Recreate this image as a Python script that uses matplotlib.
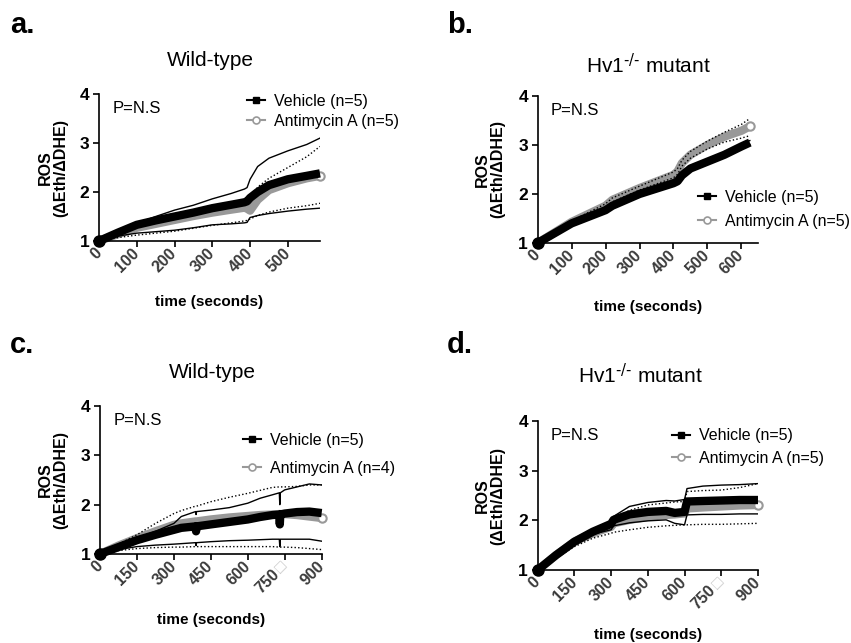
import matplotlib.pyplot as plt
from matplotlib.lines import Line2D

plt.rcParams['font.family'] = ['Liberation Sans', 'DejaVu Sans']
plt.rcParams['mathtext.default'] = 'regular'

# ---- panel a: wild-type, 600 s ----
t_a = [0, 50, 100, 150, 200, 250, 300, 350, 385, 392, 400, 420, 450, 500, 550, 585]
veh_a = [1.00, 1.17, 1.33, 1.42, 1.50, 1.58, 1.67, 1.74, 1.79, 1.81, 1.88, 2.00, 2.14, 2.26, 2.33, 2.38]
veh_a_hi = [1.00, 1.20, 1.36, 1.50, 1.63, 1.73, 1.86, 1.97, 2.06, 2.09, 2.26, 2.52, 2.69, 2.84, 2.97, 3.10]
veh_a_lo = [1.00, 1.10, 1.16, 1.19, 1.22, 1.27, 1.33, 1.35, 1.37, 1.38, 1.48, 1.52, 1.56, 1.61, 1.65, 1.67]
ama_a = [1.00, 1.14, 1.27, 1.35, 1.43, 1.51, 1.58, 1.64, 1.68, 1.66, 1.62, 1.84, 2.04, 2.18, 2.28, 2.33]
ama_a_hi = [1.00, 1.19, 1.34, 1.44, 1.53, 1.62, 1.70, 1.77, 1.82, 1.83, 1.86, 2.10, 2.28, 2.50, 2.72, 2.93]
ama_a_lo = [1.00, 1.07, 1.12, 1.16, 1.20, 1.26, 1.32, 1.37, 1.41, 1.42, 1.45, 1.52, 1.59, 1.67, 1.72, 1.77]

# ---- panel b: Hv1-/- mutant, 600 s ----
t_b = [0, 100, 200, 220, 300, 400, 412, 425, 450, 500, 550, 600, 625]
veh_b = [1.00, 1.40, 1.67, 1.76, 2.00, 2.22, 2.26, 2.38, 2.52, 2.66, 2.80, 2.97, 3.05]
veh_b_hi = [1.00, 1.42, 1.70, 1.79, 2.03, 2.25, 2.29, 2.41, 2.55, 2.70, 2.84, 3.01, 3.09]
veh_b_lo = [1.00, 1.38, 1.64, 1.73, 1.97, 2.19, 2.23, 2.35, 2.49, 2.62, 2.76, 2.93, 3.01]
ama_b = [1.00, 1.43, 1.76, 1.88, 2.12, 2.39, 2.46, 2.63, 2.80, 3.00, 3.17, 3.29, 3.38]
ama_b_hi = [1.00, 1.45, 1.80, 1.92, 2.16, 2.45, 2.52, 2.69, 2.87, 3.08, 3.26, 3.42, 3.54]
ama_b_lo = [1.00, 1.41, 1.72, 1.84, 2.08, 2.33, 2.40, 2.57, 2.73, 2.92, 3.06, 3.14, 3.19]

# ---- panel c: wild-type, 900 s ----
t_c = [0, 75, 150, 225, 300, 330, 388, 390, 392, 450, 525, 600, 650, 700, 728, 730, 732, 750, 800, 850, 900]
veh_c = [1.00, 1.14, 1.28, 1.39, 1.49, 1.53, 1.56, 1.46, 1.56, 1.60, 1.65, 1.70, 1.75, 1.79,
         1.80, 1.60, 1.80, 1.82, 1.85, 1.86, 1.83]
veh_c_hi = [1.00, 1.15, 1.32, 1.46, 1.62, 1.76, 1.86, 1.80, 1.86, 1.89, 1.94, 2.03, 2.13, 2.20,
            2.24, 2.00, 2.24, 2.30, 2.36, 2.42, 2.40]
veh_c_lo = [1.00, 1.09, 1.15, 1.18, 1.20, 1.21, 1.23, 1.17, 1.23, 1.25, 1.27, 1.28, 1.29, 1.30,
            1.30, 1.15, 1.30, 1.30, 1.30, 1.30, 1.26]
ama_c = [1.00, 1.17, 1.32, 1.46, 1.59, 1.62, 1.66, 1.66, 1.66, 1.70, 1.74, 1.77, 1.79, 1.80,
         1.81, 1.81, 1.81, 1.81, 1.79, 1.76, 1.73]
ama_c_hi = [1.00, 1.20, 1.39, 1.62, 1.82, 1.88, 1.97, 1.97, 1.97, 2.06, 2.15, 2.23, 2.29, 2.35,
            2.36, 2.36, 2.36, 2.36, 2.37, 2.40, 2.40]
ama_c_lo = [1.00, 1.07, 1.11, 1.13, 1.14, 1.14, 1.15, 1.15, 1.15, 1.15, 1.15, 1.15, 1.15, 1.15,
            1.14, 1.14, 1.14, 1.14, 1.13, 1.11, 1.09]

# ---- panel d: Hv1-/- mutant, 900 s ----
t_d = [0, 75, 150, 225, 300, 310, 375, 450, 525, 560, 600, 610, 675, 750, 825, 900]
veh_d = [1.00, 1.30, 1.57, 1.77, 1.93, 2.01, 2.12, 2.17, 2.19, 2.15, 2.17, 2.38, 2.39, 2.40, 2.41, 2.41]
veh_d_hi = [1.00, 1.31, 1.59, 1.82, 1.98, 2.08, 2.28, 2.36, 2.40, 2.39, 2.42, 2.64, 2.69, 2.71, 2.72, 2.74]
veh_d_lo = [1.00, 1.29, 1.55, 1.72, 1.81, 1.89, 1.95, 1.99, 2.01, 1.94, 1.91, 2.11, 2.12, 2.12, 2.13, 2.13]
ama_d = [1.00, 1.30, 1.57, 1.74, 1.87, 1.94, 2.01, 2.07, 2.11, 2.12, 2.14, 2.24, 2.26, 2.28, 2.30, 2.31]
ama_d_hi = [1.00, 1.31, 1.60, 1.80, 1.95, 2.03, 2.20, 2.31, 2.35, 2.37, 2.38, 2.58, 2.60, 2.61, 2.66, 2.74]
ama_d_lo = [1.00, 1.23, 1.47, 1.64, 1.74, 1.76, 1.81, 1.86, 1.89, 1.90, 1.91, 1.91, 1.92, 1.92, 1.93, 1.94]

legend_n = {'a': (5, 5), 'b': (5, 5), 'c': (5, 4), 'd': (5, 5)}
xticks_600 = [0, 100, 200, 300, 400, 500]
xticks_650 = [0, 100, 200, 300, 400, 500, 600]
xticks_900 = [0, 150, 300, 450, 600, 750, 900]

GRAY = '#999999'
TICKGRAY = '#3a3a3a'

fig = plt.figure(figsize=(8.51, 6.43), dpi=100)


def panel(rect, t, veh, vhi, vlo, ama, ahi, alo, xmax, xticks, key, leg_xy, leg_sp,
          ylab_x, xlab_y, box750=False):
    ax = fig.add_axes(rect)
    ax.plot(t, ama, color=GRAY, lw=6, solid_capstyle='butt', clip_on=False, zorder=2)
    ax.plot(t[-1:], ama[-1:], 'o', color=GRAY, mfc='white', mew=1.5, ms=6, clip_on=False, zorder=2)
    ax.plot(t, veh, color='black', lw=6, solid_capstyle='butt', clip_on=False, zorder=3)
    ax.plot(t, vhi, color='black', lw=1.0, zorder=4)
    ax.plot(t, vlo, color='black', lw=1.0, zorder=4)
    ax.plot(t, ahi, color='black', lw=1.0, ls=(0, (1, 1.6)), zorder=4)
    ax.plot(t, alo, color='black', lw=1.0, ls=(0, (1, 1.6)), zorder=4)
    ax.plot([0], [1.0], 'o', color='black', ms=8, clip_on=False, zorder=5)

    ax.set_xlim(0, xmax)
    ax.set_ylim(1, 4)
    ax.set_yticks([1, 2, 3, 4])
    ax.set_xticks(xticks)
    labels = [str(x) for x in xticks]
    if box750:
        labels[xticks.index(750)] = ''
    ax.set_xticklabels(labels)
    for s in ['top', 'right']:
        ax.spines[s].set_visible(False)
    for s in ['left', 'bottom']:
        ax.spines[s].set_linewidth(1.2)
    ax.tick_params(direction='out', length=4, width=1.2, pad=3)
    ax.tick_params(axis='y', labelsize=12.5)
    ax.tick_params(axis='x', labelsize=11.5, labelcolor=TICKGRAY)
    for lab in ax.get_yticklabels():
        lab.set_fontweight('bold')
    for lab in ax.get_xticklabels():
        lab.set_fontweight('bold')
        lab.set_rotation(45)
        lab.set_ha('right')
        lab.set_va('center')
        lab.set_rotation_mode('anchor')
    if box750:
        tr = ax.get_xaxis_transform()
        ax.annotate('\u25a1', xy=(750, 0), xycoords=tr, xytext=(0, -7), textcoords='offset points',
                    rotation=45, ha='right', va='center', rotation_mode='anchor',
                    fontsize=11.5, color='#c8c8c8', annotation_clip=False)
        ax.annotate('750', xy=(750, 0), xycoords=tr, xytext=(-5.8, -12.8), textcoords='offset points',
                    rotation=45, ha='right', va='center', rotation_mode='anchor',
                    fontsize=11.5, fontweight='bold', color=TICKGRAY, annotation_clip=False)

    ax.set_ylabel('ROS\n(\u0394Eth/\u0394DHE)', fontsize=11.5, fontweight='bold', linespacing=1.0)
    ax.yaxis.set_label_coords(ylab_x, 0.5)
    ax.set_xlabel('time (seconds)', fontsize=11, fontweight='bold')
    ax.xaxis.set_label_coords(0.5, xlab_y)

    ax.text(0.06, 0.9, 'P=N.S', transform=ax.transAxes, fontsize=12, va='center')

    nv, na = legend_n[key]
    h1 = Line2D([], [], color='black', lw=1.5, marker='s', ms=5)
    h2 = Line2D([], [], color=GRAY, lw=1.5, marker='o', ms=5, mfc='white', mew=1.2)
    ax.legend([h1, h2], [f'Vehicle (n={nv})', f'Antimycin A (n={na})'], loc='upper left',
              bbox_to_anchor=leg_xy, frameon=False, fontsize=11.5, borderpad=0, borderaxespad=0,
              handlelength=1.1, handletextpad=0.6, labelspacing=leg_sp)
    return ax


panel([0.1163, 0.6252, 0.2597, 0.2286], t_a, veh_a, veh_a_hi, veh_a_lo, ama_a, ama_a_hi, ama_a_lo,
      585, xticks_600, 'a', (0.67, 1.0), 0.3, -0.14, -0.37)
panel([0.6318, 0.6221, 0.2593, 0.2286], t_b, veh_b, veh_b_hi, veh_b_lo, ama_b, ama_b_hi, ama_b_lo,
      650, xticks_650, 'b', (0.727, 0.36), 0.55, -0.148, -0.39)
panel([0.1175, 0.1384, 0.2605, 0.2302], t_c, veh_c, veh_c_hi, veh_c_lo, ama_c, ama_c_hi, ama_c_lo,
      900, xticks_900, 'c', (0.645, 0.82), 0.82, -0.144, -0.40, box750=True)
panel([0.6318, 0.1135, 0.2589, 0.2317], t_d, veh_d, veh_d_hi, veh_d_lo, ama_d, ama_d_hi, ama_d_lo,
      900, xticks_900, 'd', (0.61, 0.95), 0.45, -0.148, -0.39, box750=True)

W, H = 851, 643
for letter, x, y in [('a.', 10, 33), ('b.', 447, 33), ('c.', 10, 353), ('d.', 447, 353)]:
    fig.text(x / W, 1 - y / H, letter, fontsize=21, fontweight='bold', va='baseline')
for title, x, y in [('Wild-type', 210, 61), ('Hv1$^{\\text{-/-}}$ mutant', 648, 65),
                    ('Wild-type', 212, 372), ('Hv1$^{\\text{-/-}}$ mutant', 640, 375)]:
    fig.text(x / W, 1 - y / H, title, fontsize=15, ha='center', va='center')

fig.savefig('out.png', dpi=100)
